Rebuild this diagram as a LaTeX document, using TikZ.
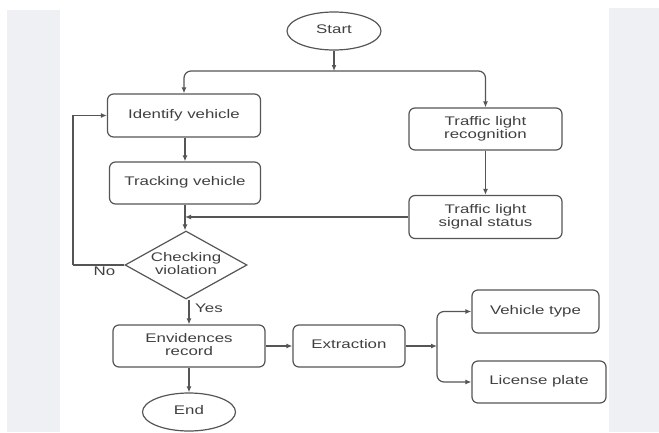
\documentclass[tikz,border=0pt]{standalone}
\usepackage{fontspec}
\setmainfont{Liberation Sans}
\usetikzlibrary{shapes.geometric,arrows.meta}
\definecolor{ln}{HTML}{555555}
\definecolor{tx}{HTML}{404040}
\definecolor{side}{HTML}{EFF0F3}
\newcommand{\mytext}[1]{\scalebox{1.35}[1]{\begin{tabular}{@{}c@{}}#1\end{tabular}}}
\newcommand{\dtext}[1]{\raisebox{-3pt}[0pt][0pt]{\makebox[0pt]{\mytext{#1}}}}
\tikzset{
  txt/.style={text=tx, font=\fontsize{12.5}{13}\selectfont},
  box/.style={txt, draw=ln, line width=1.2pt, rounded corners=6pt, minimum height=42pt, inner sep=0pt},
  oval/.style={txt, ellipse, draw=ln, line width=1.2pt, minimum width=94pt, minimum height=38pt, inner sep=0pt},
  dia/.style={txt, diamond, draw=ln, line width=1.2pt, minimum width=122pt, minimum height=68pt, inner sep=0pt},
  conn/.style={draw=ln, line width=1.2pt},
  arr/.style={conn, -{Latex[length=6pt,width=5pt]}},
}
\begin{document}
\begin{tikzpicture}[x=1pt,y=-1pt]
\useasboundingbox (0,0) rectangle (659,432);
\fill[white] (0,0) rectangle (659,432);
\fill[side] (7,10) rectangle (60,432);
\fill[side] (609,8) rectangle (659,432);

\node[oval] (start) at (334,31) {\mytext{Start}};
\node[box, minimum width=153pt, minimum height=43pt] (identify) at (184,115.5) {\mytext{Identify vehicle}};
\node[box, minimum width=151pt] (tracking) at (185,183) {\mytext{Tracking vehicle}};
\node[box, minimum width=153pt] (tlrec) at (485.5,129) {\mytext{Traffic light\\recognition}};
\node[box, minimum width=153pt, minimum height=43pt] (tlstat) at (485.5,217) {\mytext{Traffic light\\signal status}};
\node[dia] (check) at (186,265) {\dtext{Checking\\violation}};
\node[box, minimum width=152pt] (evid) at (189,346) {\mytext{Envidences\\record}};
\node[box, minimum width=112pt] (extr) at (349,346) {\mytext{Extraction}};
\node[box, minimum width=127pt, minimum height=43pt] (vtype) at (535.5,311.5) {\mytext{Vehicle type}};
\node[box, minimum width=134pt] (lplate) at (539,382) {\mytext{License plate}};
\node[oval, minimum width=93pt] (end) at (189,412) {\mytext{End}};

\coordinate (j1) at (334,71);
\coordinate (nocorner) at (73,265);
\coordinate (j2) at (437,346);

\draw[arr] (start.south) -- (j1);
\draw[arr, rounded corners=7pt] (j1) -| (identify.north);
\draw[arr, rounded corners=7pt] (j1) -| (tlrec.north);
\draw[arr] (identify.south -| tracking.north) -- (tracking.north);
\draw[arr] (tlrec) -- (tlstat);
\draw[arr] (tlstat.west) -- (tracking.south |- tlstat.west);
\draw[arr] (tracking.south) -- (tracking.south |- check.north);
\draw[conn] (check.west) -- (nocorner);
\draw[arr] (nocorner) |- (identify.west);
\node[txt] (no) at (104.5,273) {\mytext{No}};
\draw[arr] (evid.north |- check.south) -- (evid.north);
\node[txt] (yes) at (209,310) {\mytext{Yes}};
\draw[arr] (evid) -- (end);
\draw[arr] (evid) -- (extr);
\draw[arr] (extr.east) -- (j2);
\draw[arr, rounded corners=7pt] (j2) |- (vtype.west);
\draw[arr, rounded corners=7pt] (j2) |- (lplate.west);
\end{tikzpicture}
\end{document}
